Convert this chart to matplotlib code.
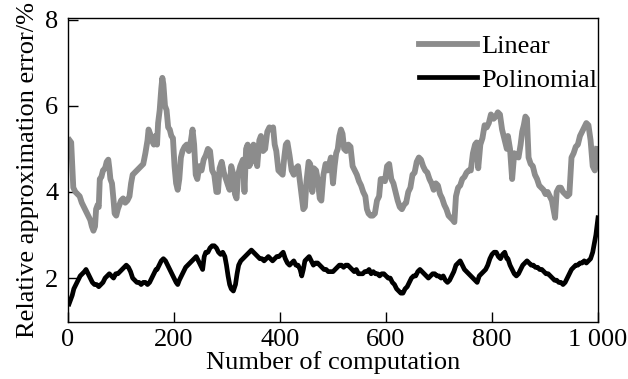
import matplotlib
matplotlib.use('Agg')
import matplotlib.pyplot as plt

# Linear approximation error (x, y)
linear_pts = [
    (3, 5.2), (6, 5.15), (8, 4.6), (10, 4.1), (14, 4.0), (18, 3.95), (22, 3.9), (26, 3.75),
    (30, 3.65), (34, 3.55), (38, 3.45), (42, 3.35), (45, 3.2), (48, 3.1), (51, 3.2), (53, 3.6),
    (56, 3.7), (58, 3.65), (60, 4.3), (63, 4.35), (66, 4.5), (70, 4.55), (73, 4.7), (76, 4.75),
    (78, 4.55), (80, 4.3), (83, 4.2), (86, 3.8), (88, 3.5), (91, 3.45), (94, 3.6), (97, 3.7),
    (100, 3.8), (104, 3.85), (108, 3.75), (112, 3.8), (116, 3.9), (119, 4.2), (122, 4.4),
    (126, 4.45), (130, 4.5), (134, 4.55), (138, 4.6), (142, 4.65), (146, 4.9), (150, 5.2),
    (152, 5.45), (155, 5.35), (158, 5.2), (162, 5.1), (165, 5.3),
    (168, 5.1), (170, 5.6), (173, 5.9), (176, 6.4), (178, 6.65), (180, 6.5), (183, 6.0),
    (186, 5.9), (189, 5.5), (192, 5.45), (195, 5.3), (198, 5.25), (201, 4.6), (204, 4.2),
    (207, 4.05), (210, 4.3), (213, 4.8), (216, 4.95), (220, 5.05), (224, 5.1), (228, 4.95),
    (232, 5.2), (235, 5.45), (238, 5.1), (241, 4.4), (244, 4.3), (248, 4.6), (252, 4.5),
    (256, 4.75), (260, 4.85), (264, 5.0), (268, 4.95), (272, 4.5), (276, 4.4), (280, 4.0),
    (283, 4.0), (286, 4.55), (290, 4.7), (294, 4.45), (298, 4.3), (302, 4.15), (305, 4.05),
    (308, 4.6), (311, 4.45), (315, 3.95), (318, 3.85), (321, 4.4), (325, 4.6), (330, 4.75),
    (333, 4.0), (336, 5.0), (339, 5.1), (342, 4.6), (346, 4.7), (350, 5.1), (353, 4.9),
    (357, 4.6), (361, 5.2), (364, 5.3), (368, 4.95), (372, 5.0), (376, 5.4), (380, 5.5),
    (384, 5.45), (387, 5.5), (390, 5.1), (393, 4.95), (397, 4.5), (401, 4.45), (405, 4.4),
    (408, 4.8), (411, 5.1), (414, 5.15), (418, 4.85), (422, 4.5), (426, 4.4), (430, 4.55),
    (434, 4.6), (438, 4.2), (441, 3.9), (444, 3.6), (447, 3.65), (450, 4.25), (454, 4.7),
    (457, 4.65), (461, 4.0), (464, 4.55), (468, 4.5), (471, 4.3), (475, 3.85), (478, 3.8),
    (482, 4.4), (486, 4.65), (490, 4.5), (496, 4.8),
    (500, 4.2), (503, 4.6), (506, 4.9), (509, 5.0), (512, 5.3), (515, 5.45), (518, 5.35),
    (521, 5.0), (525, 4.95), (529, 5.1), (533, 5.05), (537, 4.6), (541, 4.5), (545, 4.4),
    (549, 4.25), (553, 4.15), (557, 4.0), (561, 3.9), (564, 3.6), (567, 3.5), (571, 3.45),
    (575, 3.45), (579, 3.5), (583, 3.8), (587, 3.9), (590, 4.3), (594, 4.3), (598, 4.25),
    (602, 4.6), (606, 4.65), (610, 4.3), (614, 4.2), (618, 4.0), (622, 3.8), (626, 3.65),
    (630, 3.6), (634, 3.7), (638, 3.75), (642, 4.0), (646, 4.1), (650, 4.4), (654, 4.45),
    (658, 4.7), (662, 4.8),
    (666, 4.75), (670, 4.6), (674, 4.5), (678, 4.45), (682, 4.3), (686, 4.2), (690, 4.05),
    (694, 4.2), (698, 4.15), (702, 3.95), (706, 3.85), (710, 3.7), (714, 3.6), (718, 3.45),
    (722, 3.4), (726, 3.35), (729, 3.3), (732, 3.9), (736, 4.1), (740, 4.15), (744, 4.3),
    (748, 4.35), (752, 4.45), (756, 4.5), (760, 4.5), (764, 4.9), (768, 5.1), (771, 5.15),
    (774, 4.55), (778, 5.1), (782, 5.25), (786, 5.55), (790, 5.5), (794, 5.6), (798, 5.8),
    (803, 5.7), (807, 5.75), (811, 5.85), (815, 5.8), (819, 5.45), (824, 5.2), (828, 5.0),
    (830, 5.3), (834, 5.0), (838, 4.3), (842, 4.9), (846, 4.85), (850, 4.8), (854, 5.1),
    (857, 5.4), (860, 5.55), (863, 5.75), (866, 5.7), (869, 4.8), (873, 4.65), (877, 4.6),
    (881, 4.4), (885, 4.3), (889, 4.15), (893, 4.1), (897, 4.05), (901, 3.95), (905, 4.0),
    (909, 3.9), (913, 3.8), (916, 3.6), (919, 3.4), (922, 4.0), (926, 4.1), (930, 4.1),
    (934, 4.0), (938, 3.95), (942, 3.9), (946, 3.95), (950, 4.8), (954, 4.9), (958, 5.05),
    (962, 5.1), (966, 5.3), (970, 5.4), (974, 5.5), (978, 5.6), (982, 5.55), (986, 5.2),
    (990, 4.6), (994, 4.5), (998, 5.0),
]

# Polynomial approximation error
poly_pts = [
    (2, 1.4), (5, 1.5), (8, 1.6), (11, 1.75), (15, 1.85), (19, 1.95), (23, 2.05), (27, 2.1),
    (31, 2.15), (34, 2.2), (38, 2.1), (42, 2.0), (46, 1.9), (50, 1.85), (54, 1.85), (58, 1.8),
    (62, 1.85), (66, 1.9), (70, 2.0), (74, 2.05), (78, 2.1), (82, 2.05), (86, 2.0), (90, 2.1),
    (94, 2.1), (98, 2.15), (102, 2.2), (106, 2.25), (110, 2.3), (114, 2.25), (118, 2.15),
    (122, 2.0), (126, 1.95), (130, 1.9), (134, 1.9), (138, 1.85), (142, 1.9), (146, 1.9),
    (150, 1.85), (154, 1.9), (158, 2.0), (162, 2.1), (166, 2.2),
    (168, 2.2), (172, 2.3), (176, 2.4), (180, 2.45), (184, 2.4), (188, 2.3), (192, 2.2),
    (196, 2.1), (200, 2.0), (204, 1.9), (207, 1.85), (210, 1.95), (214, 2.05), (218, 2.15),
    (222, 2.25), (226, 2.3), (230, 2.35), (234, 2.4), (238, 2.45), (242, 2.5), (246, 2.4),
    (250, 2.3), (254, 2.2), (257, 2.5), (260, 2.6), (264, 2.6), (268, 2.7), (272, 2.75),
    (276, 2.75), (280, 2.7), (284, 2.6), (288, 2.55), (292, 2.6), (296, 2.5), (299, 2.3),
    (302, 2.05), (305, 1.85), (308, 1.75), (312, 1.7), (316, 1.85), (319, 2.1), (322, 2.3),
    (326, 2.4), (330, 2.45),
    (334, 2.5), (338, 2.55), (342, 2.6), (346, 2.65), (350, 2.6), (354, 2.55), (358, 2.5),
    (362, 2.45), (366, 2.45), (370, 2.4), (374, 2.45), (378, 2.5), (382, 2.45), (386, 2.4),
    (390, 2.45), (394, 2.5), (398, 2.5), (402, 2.55), (406, 2.6), (410, 2.45), (414, 2.35),
    (418, 2.3), (422, 2.35), (426, 2.4), (430, 2.3), (434, 2.3), (438, 2.2), (441, 2.05),
    (444, 2.2), (447, 2.4), (451, 2.45), (455, 2.5), (459, 2.4), (463, 2.3), (467, 2.35),
    (471, 2.35), (475, 2.3), (479, 2.25), (483, 2.2), (487, 2.2), (491, 2.15), (496, 2.15),
    (500, 2.15), (504, 2.2), (508, 2.25), (512, 2.3), (516, 2.3), (520, 2.25), (524, 2.3),
    (528, 2.3), (532, 2.25), (536, 2.2), (540, 2.15), (544, 2.2), (548, 2.1), (552, 2.1),
    (556, 2.1), (560, 2.15), (564, 2.15), (568, 2.2), (572, 2.1), (576, 2.15), (580, 2.1),
    (584, 2.1), (588, 2.05), (592, 2.1), (596, 2.1), (600, 2.05), (604, 2.0), (608, 2.0),
    (612, 1.9), (616, 1.85), (620, 1.75), (624, 1.7), (628, 1.65), (632, 1.65), (636, 1.75),
    (640, 1.8), (644, 1.9), (648, 2.0), (652, 2.05), (656, 2.05), (660, 2.15), (664, 2.2),
    (668, 2.15), (672, 2.1), (676, 2.05), (680, 2.0), (684, 2.05), (688, 2.1), (692, 2.1),
    (696, 2.05), (700, 2.05), (704, 2.0), (708, 2.05), (712, 1.95), (716, 1.9), (720, 1.95),
    (724, 2.05), (728, 2.15), (732, 2.3), (736, 2.35), (740, 2.4), (744, 2.3), (748, 2.2),
    (752, 2.15), (756, 2.1), (760, 2.05), (764, 2.0), (768, 1.95), (772, 1.9), (776, 2.05),
    (780, 2.1), (784, 2.15), (788, 2.2), (792, 2.3), (796, 2.45), (800, 2.55), (804, 2.6),
    (808, 2.6), (812, 2.5), (816, 2.45), (820, 2.55), (824, 2.6), (828, 2.45),
    (830, 2.45), (834, 2.3), (838, 2.2), (842, 2.1), (846, 2.05), (850, 2.1), (854, 2.2),
    (858, 2.3), (862, 2.35), (866, 2.4), (870, 2.35), (874, 2.3), (878, 2.3), (882, 2.25),
    (886, 2.25), (890, 2.2), (894, 2.2), (898, 2.15), (902, 2.1), (906, 2.1), (910, 2.05),
    (914, 2.0), (918, 1.95), (922, 1.95), (926, 1.9), (930, 1.9), (934, 1.85), (938, 1.9),
    (942, 2.0), (946, 2.1), (950, 2.2), (954, 2.25), (958, 2.3), (962, 2.3), (966, 2.35),
    (970, 2.35), (974, 2.4), (978, 2.35), (982, 2.4), (986, 2.45), (990, 2.6), (993, 2.8),
    (996, 3.0), (998, 3.2), (1000, 3.4),
]

x_ticks = [0, 200, 400, 600, 800, 1000]
x_ticklabels = ['0', '200', '400', '600', '800', '1 000']
y_ticks = [2, 4, 6, 8]

plt.rcParams['font.family'] = ['Liberation Serif', 'DejaVu Serif']
plt.rcParams['font.size'] = 19

fig = plt.figure(figsize=(6.28, 3.79), dpi=100)
ax = fig.add_axes([68 / 628, 1 - 322 / 379, 530 / 628, 304 / 379])

lx, ly = zip(*linear_pts)
px, py = zip(*poly_pts)
ax.plot(lx, ly, '-', color='#8c8c8c', linewidth=4.2, label='Linear')
ax.plot(px, py, '-', color='black', linewidth=3.4, label='Polinomial')

ax.set_xlim(0, 1000)
ax.set_ylim(0.98, 8.04)
ax.set_xticks(x_ticks)
ax.set_xticklabels(x_ticklabels)
ax.set_yticks(y_ticks)
ax.tick_params(direction='in', length=7, width=1.0, top=False, right=False)
ax.tick_params(axis='x', pad=5)
ax.tick_params(axis='y', pad=7)
for s in ax.spines.values():
    s.set_linewidth(1.0)

ax.set_xlabel('Number of computation', labelpad=0)
ax.set_ylabel('Relative approximation error/%', labelpad=4)

# legend sits tight in the upper right corner, text almost touching the spine
ax.legend(loc='upper right', bbox_to_anchor=(1 + 10 / 530, 1 - 6 / 304), frameon=False,
          handlelength=2.2, handletextpad=0.15, labelspacing=0.38,
          borderaxespad=0.2, borderpad=0.2)

fig.savefig('out.png', dpi=100)
